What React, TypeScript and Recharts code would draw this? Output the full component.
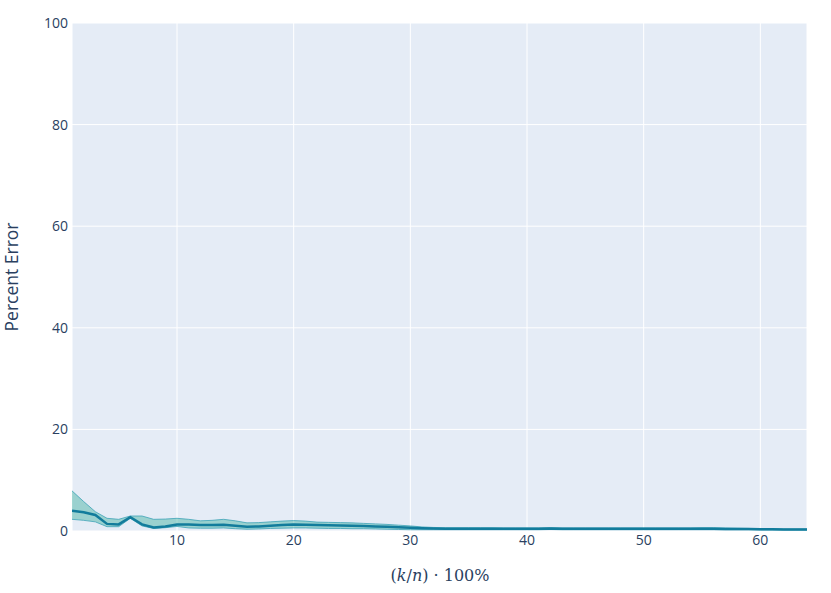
import React from "react";
import { ComposedChart, Area, Line, XAxis, YAxis, CartesianGrid } from "recharts";

const xs: number[] = Array.from({ length: 64 }, (_, i) => i + 1);

const meanVals: number[] = [
  4.0, 3.7, 3.15, 1.4, 1.3, 2.7, 1.3, 0.7, 0.9, 1.3,
  1.3, 1.2, 1.2, 1.25, 1.05, 0.85, 0.9, 1.05, 1.2, 1.3,
  1.25, 1.2, 1.15, 1.1, 1.05, 1.0, 0.9, 0.85, 0.75, 0.65,
  0.55, 0.5, 0.45, 0.45, 0.45, 0.45, 0.45, 0.45, 0.45, 0.45,
  0.45, 0.5, 0.45, 0.45, 0.45, 0.45, 0.45, 0.45, 0.45, 0.45,
  0.45, 0.45, 0.45, 0.45, 0.45, 0.45, 0.4, 0.4, 0.4, 0.35,
  0.35, 0.3, 0.3, 0.3,
];

const upperVals: number[] = [
  7.9, 5.8, 3.8, 2.5, 2.3, 2.95, 2.95, 2.3, 2.35, 2.5,
  2.3, 2.0, 2.1, 2.3, 2.0, 1.6, 1.65, 1.8, 1.95, 2.05,
  1.95, 1.75, 1.7, 1.65, 1.6, 1.5, 1.4, 1.3, 1.15, 1.0,
  0.8, 0.7, 0.65, 0.65, 0.65, 0.65, 0.65, 0.6, 0.6, 0.6,
  0.6, 0.65, 0.6, 0.6, 0.6, 0.6, 0.6, 0.6, 0.6, 0.6,
  0.6, 0.6, 0.6, 0.6, 0.65, 0.65, 0.6, 0.55, 0.5, 0.45,
  0.45, 0.4, 0.4, 0.4,
];

const lowerVals: number[] = [
  2.3, 2.1, 1.8, 0.85, 0.85, 2.5, 1.0, 0.5, 0.65, 0.9,
  0.6, 0.55, 0.55, 0.6, 0.45, 0.35, 0.4, 0.5, 0.55, 0.6,
  0.6, 0.55, 0.5, 0.5, 0.45, 0.45, 0.4, 0.35, 0.3, 0.25,
  0.25, 0.25, 0.25, 0.25, 0.25, 0.25, 0.25, 0.25, 0.25, 0.25,
  0.25, 0.3, 0.25, 0.25, 0.25, 0.25, 0.25, 0.25, 0.25, 0.25,
  0.25, 0.25, 0.25, 0.25, 0.25, 0.25, 0.25, 0.25, 0.25, 0.2,
  0.2, 0.2, 0.2, 0.2,
];

const xTicks: number[] = [10, 20, 30, 40, 50, 60];
const yTicks: number[] = [0, 20, 40, 60, 80, 100];

const data = xs.map((x, i) => ({
  x,
  mean: meanVals[i],
  band: [lowerVals[i], upperVals[i]],
}));

const FONT = "'Open Sans', sans-serif";
const TXT = "#2a3f5f";

const XLabel = () => (
  <text
    x={440}
    y={581}
    textAnchor="middle"
    fill={TXT}
    style={{ fontFamily: "'DejaVu Serif', 'Liberation Serif', serif", fontSize: 16 }}
  >
    (<tspan fontStyle="italic">k</tspan>/<tspan fontStyle="italic">n</tspan>) · 100%
  </text>
);

const YLabel = () => (
  <text
    x={18}
    y={277}
    transform="rotate(-90 18 277)"
    textAnchor="middle"
    fill={TXT}
    style={{ fontFamily: FONT, fontSize: 17.5 }}
  >
    Percent Error
  </text>
);

export default function App() {
  return (
    <div style={{ position: "absolute", left: 0, top: 0, width: 831, height: 593, background: "#fff" }}>
      <ComposedChart
        width={831}
        height={593}
        data={data}
        margin={{ top: 23, right: 24, bottom: 0, left: 0 }}
      >
        <CartesianGrid fill="#E5ECF6" stroke="#ffffff" strokeWidth={1} />
        <XAxis
          dataKey="x"
          type="number"
          domain={[1, 64]}
          ticks={xTicks}
          allowDataOverflow
          axisLine={false}
          tickLine={false}
          tickSize={0}
          tickMargin={4}
          height={62}
          tick={{ fill: TXT, fontSize: 14, fontFamily: FONT }}
          label={<XLabel />}
        />
        <YAxis
          type="number"
          domain={[0, 100]}
          ticks={yTicks}
          axisLine={false}
          tickLine={false}
          tickSize={0}
          tickMargin={4}
          width={72}
          tick={{ fill: TXT, fontSize: 14, fontFamily: FONT }}
          label={<YLabel />}
        />
        <Area
          type="linear"
          dataKey="band"
          stroke="#3fa3b8"
          strokeWidth={0.8}
          fill="rgba(42,170,150,0.4)"
          fillOpacity={1}
          isAnimationActive={false}
          dot={false}
          activeDot={false}
        />
        <Line
          type="linear"
          dataKey="mean"
          stroke="#127c9c"
          strokeWidth={2.5}
          dot={false}
          activeDot={false}
          isAnimationActive={false}
        />
      </ComposedChart>
    </div>
  );
}
